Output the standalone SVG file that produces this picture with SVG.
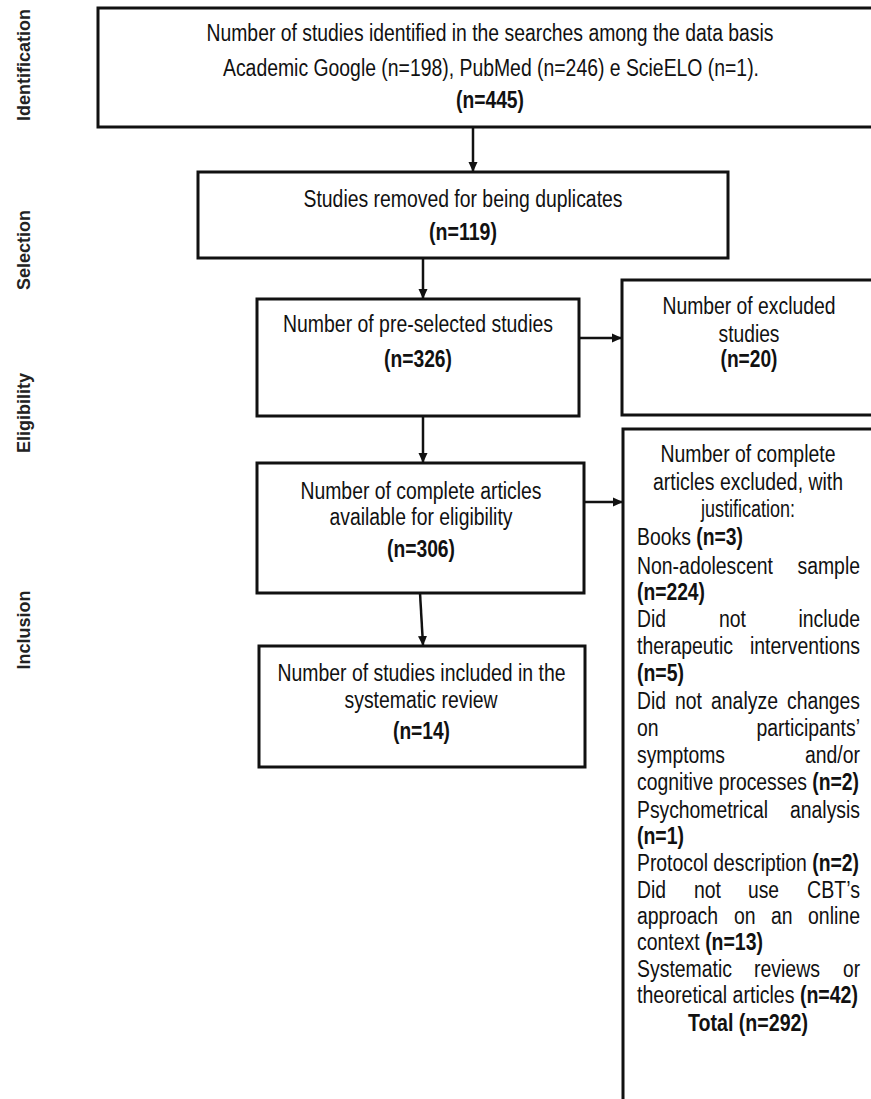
<svg xmlns="http://www.w3.org/2000/svg" width="871" height="1099" viewBox="0 0 871 1099">
<style>
.box{fill:#fff;stroke:#111;stroke-width:3}
.t{font-family:"Liberation Sans",Arial,sans-serif;font-size:23px;fill:#111}
.c{text-anchor:middle}
.e{text-anchor:end}
.b{font-weight:bold}
.lbl{font-family:"Liberation Sans",Arial,sans-serif;font-size:18px;font-weight:bold;fill:#222;text-anchor:middle}
.ln{stroke:#111;stroke-width:2.5;fill:none}
</style>
<defs>
<marker id="ah" markerWidth="10" markerHeight="10" refX="9" refY="5" orient="auto" markerUnits="userSpaceOnUse" viewBox="0 0 10 10">
<path d="M0,0.5 L10,5 L0,9.5 Z" fill="#111"/>
</marker>
</defs>
<rect width="871" height="1099" fill="#fff"/>

<g id="labels">
<text class="lbl" transform="translate(30,65) rotate(-90)">Identification</text>
<text class="lbl" transform="translate(30,250) rotate(-90)">Selection</text>
<text class="lbl" transform="translate(30,413) rotate(-90)">Eligibility</text>
<text class="lbl" transform="translate(30,630) rotate(-90)">Inclusion</text>
</g>

<g id="connectors">
<line class="ln" x1="473" y1="127" x2="473" y2="171" marker-end="url(#ah)"/>
<line class="ln" x1="423" y1="258" x2="423" y2="298" marker-end="url(#ah)"/>
<line class="ln" x1="579" y1="338" x2="621" y2="338" marker-end="url(#ah)"/>
<line class="ln" x1="423" y1="416" x2="423" y2="462" marker-end="url(#ah)"/>
<line class="ln" x1="584" y1="502" x2="622" y2="502" marker-end="url(#ah)"/>
<line class="ln" x1="420" y1="593" x2="423" y2="645" marker-end="url(#ah)"/>
</g>

<g id="identified">
<rect class="box" x="98" y="8" width="800" height="119"/>
<text class="t c" x="490" y="41" textLength="567" lengthAdjust="spacingAndGlyphs">Number of studies identified in the searches among the data basis</text>
<text class="t c" x="491" y="76" textLength="536" lengthAdjust="spacingAndGlyphs">Academic Google (n=198), PubMed (n=246) e ScieELO (n=1).</text>
<text class="t c b" x="490" y="108" textLength="68" lengthAdjust="spacingAndGlyphs">(n=445)</text>
</g>

<g id="duplicates">
<rect class="box" x="198" y="172" width="530" height="86"/>
<text class="t c" x="463" y="207" textLength="319" lengthAdjust="spacingAndGlyphs">Studies removed for being duplicates</text>
<text class="t c b" x="463" y="240" textLength="68" lengthAdjust="spacingAndGlyphs">(n=119)</text>
</g>

<g id="preselected">
<rect class="box" x="257" y="299" width="322" height="117"/>
<text class="t c" x="418" y="332" textLength="270" lengthAdjust="spacingAndGlyphs">Number of pre-selected studies</text>
<text class="t c b" x="418" y="367" textLength="68" lengthAdjust="spacingAndGlyphs">(n=326)</text>
</g>

<g id="excluded">
<rect class="box" x="622" y="280" width="270" height="135"/>
<text class="t c" x="749" y="314" textLength="173" lengthAdjust="spacingAndGlyphs">Number of excluded</text>
<text class="t c" x="749" y="342" textLength="61" lengthAdjust="spacingAndGlyphs">studies</text>
<text class="t c b" x="749" y="367" textLength="57" lengthAdjust="spacingAndGlyphs">(n=20)</text>
</g>

<g id="eligibility">
<rect class="box" x="257" y="463" width="327" height="130"/>
<text class="t c" x="421" y="499" textLength="241" lengthAdjust="spacingAndGlyphs">Number of complete articles</text>
<text class="t c" x="421" y="525" textLength="183" lengthAdjust="spacingAndGlyphs">available for eligibility</text>
<text class="t c b" x="421" y="557" textLength="68" lengthAdjust="spacingAndGlyphs">(n=306)</text>
</g>

<g id="included">
<rect class="box" x="259" y="646" width="326" height="121"/>
<text class="t c" x="421.5" y="681" textLength="288" lengthAdjust="spacingAndGlyphs">Number of studies included in the</text>
<text class="t c" x="421" y="708" textLength="153" lengthAdjust="spacingAndGlyphs">systematic review</text>
<text class="t c b" x="421.5" y="739" textLength="57" lengthAdjust="spacingAndGlyphs">(n=14)</text>
</g>

<g id="articles-excluded">
<rect class="box" x="623" y="429" width="270" height="700"/>
<text class="t c" x="748" y="462" textLength="175" lengthAdjust="spacingAndGlyphs">Number of complete</text>
<text class="t c" x="748" y="490" textLength="190" lengthAdjust="spacingAndGlyphs">articles excluded, with</text>
<text class="t c" x="748" y="517" textLength="94" lengthAdjust="spacingAndGlyphs">justification:</text>

<text class="t" x="637" y="545" textLength="106" lengthAdjust="spacingAndGlyphs">Books <tspan class="b">(n=3)</tspan></text>

<text class="t" x="637" y="574" textLength="136" lengthAdjust="spacingAndGlyphs">Non-adolescent</text>
<text class="t e" x="860" y="574" textLength="62.5" lengthAdjust="spacingAndGlyphs">sample</text>
<text class="t b" x="637" y="600" textLength="68" lengthAdjust="spacingAndGlyphs">(n=224)</text>

<text class="t" x="637" y="627" textLength="29" lengthAdjust="spacingAndGlyphs">Did</text>
<text class="t" x="719" y="627" textLength="27" lengthAdjust="spacingAndGlyphs">not</text>
<text class="t e" x="860" y="627" textLength="61.5" lengthAdjust="spacingAndGlyphs">include</text>
<text class="t" x="637" y="654" textLength="96" lengthAdjust="spacingAndGlyphs">therapeutic</text>
<text class="t e" x="860" y="654" textLength="110" lengthAdjust="spacingAndGlyphs">interventions</text>
<text class="t b" x="637" y="681" textLength="47" lengthAdjust="spacingAndGlyphs">(n=5)</text>

<text class="t" x="637" y="709" textLength="29" lengthAdjust="spacingAndGlyphs">Did</text>
<text class="t" x="675" y="709" textLength="27" lengthAdjust="spacingAndGlyphs">not</text>
<text class="t" x="711" y="709" textLength="67" lengthAdjust="spacingAndGlyphs">analyze</text>
<text class="t e" x="860" y="709" textLength="73" lengthAdjust="spacingAndGlyphs">changes</text>
<text class="t" x="637" y="736" textLength="21.6" lengthAdjust="spacingAndGlyphs">on</text>
<text class="t e" x="860" y="736" textLength="103.5" lengthAdjust="spacingAndGlyphs">participants’</text>
<text class="t" x="637" y="763" textLength="88" lengthAdjust="spacingAndGlyphs">symptoms</text>
<text class="t e" x="860" y="763" textLength="55" lengthAdjust="spacingAndGlyphs">and/or</text>
<text class="t" x="637" y="790" textLength="222" lengthAdjust="spacingAndGlyphs">cognitive processes <tspan class="b">(n=2)</tspan></text>

<text class="t" x="637" y="818" textLength="131" lengthAdjust="spacingAndGlyphs">Psychometrical</text>
<text class="t e" x="860" y="818" textLength="70" lengthAdjust="spacingAndGlyphs">analysis</text>
<text class="t b" x="637" y="844" textLength="47" lengthAdjust="spacingAndGlyphs">(n=1)</text>

<text class="t" x="637" y="871" textLength="222" lengthAdjust="spacingAndGlyphs">Protocol description <tspan class="b">(n=2)</tspan></text>

<text class="t" x="637" y="898" textLength="29" lengthAdjust="spacingAndGlyphs">Did</text>
<text class="t" x="694" y="898" textLength="27" lengthAdjust="spacingAndGlyphs">not</text>
<text class="t" x="748" y="898" textLength="31" lengthAdjust="spacingAndGlyphs">use</text>
<text class="t e" x="860" y="898" textLength="53" lengthAdjust="spacingAndGlyphs">CBT’s</text>
<text class="t" x="637" y="924" textLength="81" lengthAdjust="spacingAndGlyphs">approach</text>
<text class="t" x="734" y="924" textLength="21.6" lengthAdjust="spacingAndGlyphs">on</text>
<text class="t" x="771" y="924" textLength="21.6" lengthAdjust="spacingAndGlyphs">an</text>
<text class="t e" x="860" y="924" textLength="52" lengthAdjust="spacingAndGlyphs">online</text>
<text class="t" x="637" y="950" textLength="126" lengthAdjust="spacingAndGlyphs">context <tspan class="b">(n=13)</tspan></text>

<text class="t" x="637" y="977" textLength="95" lengthAdjust="spacingAndGlyphs">Systematic</text>
<text class="t" x="754" y="977" textLength="66" lengthAdjust="spacingAndGlyphs">reviews</text>
<text class="t e" x="860" y="977" textLength="17" lengthAdjust="spacingAndGlyphs">or</text>
<text class="t" x="637" y="1003" textLength="221" lengthAdjust="spacingAndGlyphs">theoretical articles <tspan class="b">(n=42)</tspan></text>

<text class="t c b" x="748" y="1031" textLength="120" lengthAdjust="spacingAndGlyphs">Total (n=292)</text>
</g>
</svg>
